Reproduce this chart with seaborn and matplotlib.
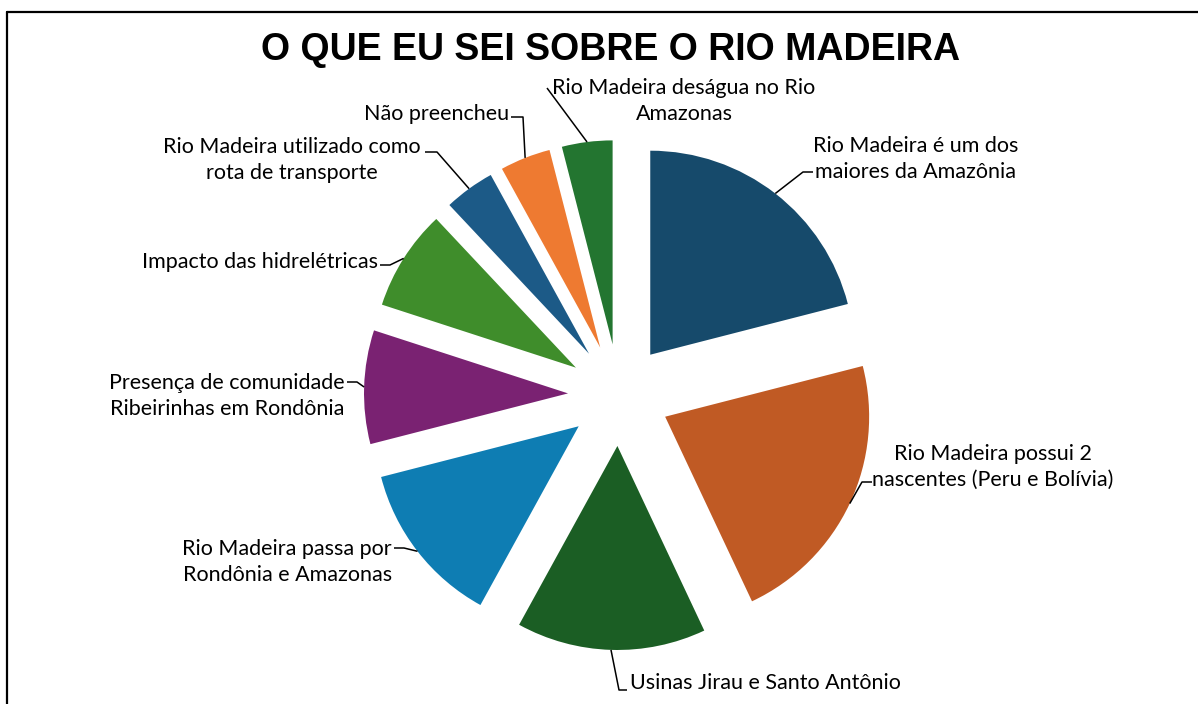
import matplotlib
matplotlib.use("Agg")
import matplotlib.pyplot as plt
import seaborn as sns
import numpy as np
from matplotlib.lines import Line2D

# data (percent of answers)
categories = [
    "Rio Madeira é um dos\nmaiores da Amazônia",
    "Rio Madeira possui 2\nnascentes (Peru e Bolívia)",
    "Usinas Jirau e Santo Antônio",
    "Rio Madeira passa por\nRondônia e Amazonas",
    "Presença de comunidade\nRibeirinhas em Rondônia",
    "Impacto das hidrelétricas",
    "Rio Madeira utilizado como\nrota de transporte",
    "Não preencheu",
    "Rio Madeira deságua no Rio\nAmazonas",
]
values = [21, 22, 15, 13, 9, 8, 4, 4, 4]
colors = ["#164A6B", "#C05A24", "#1B5E24", "#0E7DB3", "#7A2272",
          "#3F8D2B", "#1C5A87", "#EE7A31", "#237530"]

# layout, in pixels of the 1198x704 picture
W, H = 1198, 704
CX, CY, R = 619, 395, 204
# (text x, text y, ha, elbow x, elbow y, text-side offset)
label_pos = [
    (813, 159, "left", 803, 172, 10),
    (872, 467, "left", 862, 482, 10),
    (630, 683, "left", 619, 690, 8),
    (392, 562, "right", 404, 548, -10),
    (345, 396, "right", 357, 382, -10),
    (378, 262, "right", 390, 265, -10),
    (421, 160, "right", 437, 152, -12),
    (509, 114, "right", 523, 117, -12),
    (684, 101, "center", 547, 88, 0),
]


def px(x, y):
    return (x - CX) / R, (CY - y) / R


sns.set_theme(style="white")
plt.rcParams["font.family"] = ["Lato", "DejaVu Sans"]
plt.rcParams["text.color"] = "black"

fig = plt.figure(figsize=(W / 100, H / 100), dpi=100)
ax = fig.add_axes([0, 0, 1, 1])

wedges, _ = ax.pie(values, colors=colors, startangle=90, counterclock=False,
                   explode=[0.25] * len(values), radius=1,
                   wedgeprops=dict(linewidth=0))
x0, y0 = px(0, H)
x1, y1 = px(W, 0)
ax.set_xlim(x0, x1)
ax.set_ylim(y0, y1)
ax.axis("off")

for w, lab, pos in zip(wedges, categories, label_pos):
    tx, ty, ha, ex, ey, off = pos
    mid = np.deg2rad((w.theta1 + w.theta2) / 2)
    ax_, ay_ = w.center[0] + w.r * np.cos(mid), w.center[1] + w.r * np.sin(mid)
    exd, eyd = px(ex, ey)
    exd2, _ = px(ex + off, ey)
    ax.plot([ax_, exd, exd2], [ay_, eyd, eyd], color="black", lw=1.1,
            solid_capstyle="butt")
    tdx, tdy = px(tx, ty)
    ax.text(tdx, tdy, lab, ha=ha, va="center", fontsize=15.5,
            multialignment="center", linespacing=1.35, color="black")

tx, ty = px(611, 50)
ax.text(tx, ty, "O QUE EU SEI SOBRE O RIO MADEIRA", ha="center", va="center",
        fontsize=27, fontweight="bold", family="Liberation Sans", color="black")

# frame around the figure
fig.add_artist(Line2D([7 / W, 1], [1 - 12 / H, 1 - 12 / H], color="black",
                      lw=1.6, transform=fig.transFigure))
fig.add_artist(Line2D([7 / W, 7 / W], [0, 1 - 12 / H], color="black",
                      lw=1.6, transform=fig.transFigure))

fig.savefig("out.png", dpi=100, facecolor="white")
